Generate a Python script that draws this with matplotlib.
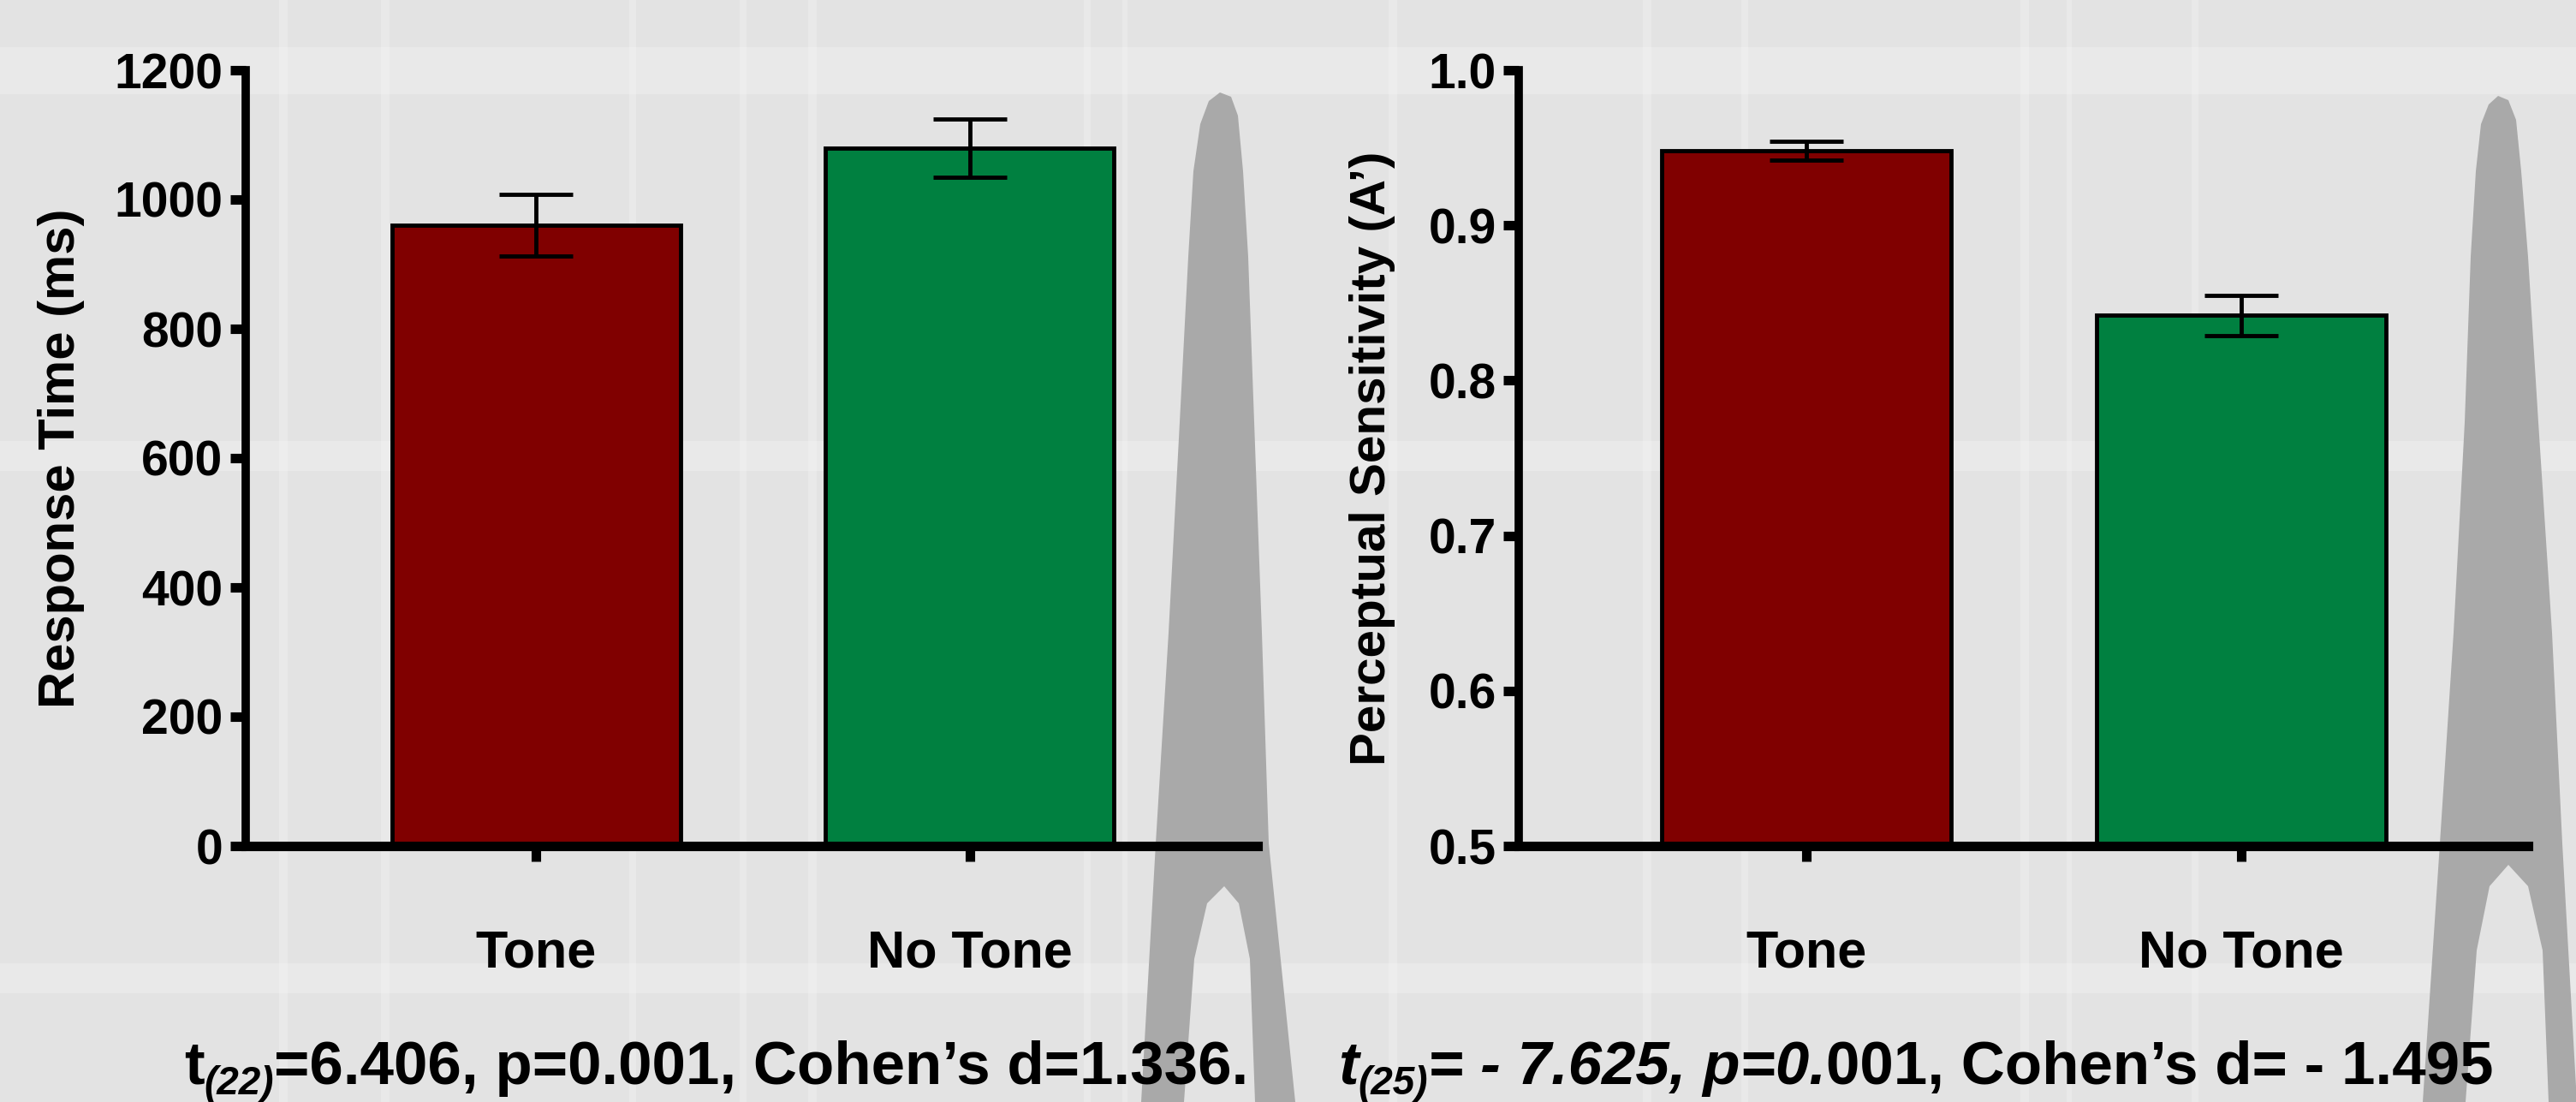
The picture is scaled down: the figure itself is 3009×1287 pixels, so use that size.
import numpy as np
import matplotlib.pyplot as plt
from matplotlib.patches import Polygon

W, H = 3009, 1287

# data
categories = ['Tone', 'No Tone']
rt_mean = [960, 1080]
rt_err = [48, 45]
aprime_mean = [0.948, 0.842]
aprime_err = [0.006, 0.013]
bar_colors = ['#800000', '#008040']
rt_ticks = [0, 200, 400, 600, 800, 1000, 1200]
aprime_ticks = [0.5, 0.6, 0.7, 0.8, 0.9, 1.0]

font = ['Liberation Sans', 'DejaVu Sans']

fig = plt.figure(figsize=(W / 100, H / 100), dpi=100)
fig.patch.set_facecolor('#e3e3e3')

# background: faint light stripes + grey peaks
bg = fig.add_axes([0, 0, 1, 1], zorder=-10)
bg.set_xlim(0, W)
bg.set_ylim(H, 0)
bg.axis('off')
for x0, w in [(326, 10), (445, 10), (735, 8), (864, 8), (944, 10), (1266, 8),
              (1311, 6), (1622, 10), (1919, 10), (2034, 8), (2360, 10), (2414, 6), (2560, 8)]:
    bg.axvspan(x0, x0 + w, color='white', alpha=0.22, lw=0)
for y0, h in [(55, 55), (515, 35), (1125, 35)]:
    bg.axhspan(y0, y0 + h, color='white', alpha=0.22, lw=0)

peak_l = [(1333, 1287), (1350, 985), (1365, 739), (1378, 493), (1388, 300), (1394, 200),
          (1402, 145), (1412, 118), (1425, 108), (1438, 113), (1446, 135), (1452, 200),
          (1458, 300), (1465, 493), (1474, 739), (1482, 985), (1513, 1287),
          (1466, 1287), (1460, 1120), (1447, 1055), (1430, 1035), (1410, 1055),
          (1395, 1120), (1383, 1287)]
peak_r = [(2830, 1287), (2850, 985), (2866, 739), (2879, 493), (2886, 300), (2892, 200),
          (2898, 145), (2907, 122), (2918, 112), (2930, 117), (2939, 140), (2945, 200),
          (2953, 300), (2965, 493), (2981, 739), (2993, 985), (3010, 1287),
          (2977, 1287), (2970, 1110), (2953, 1035), (2930, 1010), (2908, 1035),
          (2893, 1110), (2880, 1287)]
for pts in [peak_l, peak_r]:
    bg.add_patch(Polygon(pts, closed=True, facecolor='#a9a9a9', edgecolor='none'))


def bar_panel(rect, means, errs, ticks, ylim, xlim, ylabel, label_size, label_x, fmt):
    ax = fig.add_axes(rect)
    ax.patch.set_alpha(0)
    x = np.arange(len(categories))
    ax.bar(x, means, width=0.665, color=bar_colors, edgecolor='black', linewidth=3.5, zorder=2)
    ax.errorbar(x, means, yerr=errs, fmt='none', ecolor='black', elinewidth=3.5,
                capsize=31, capthick=3.5, zorder=3)
    ax.set_xlim(*xlim)
    ax.set_ylim(*ylim)
    ax.set_xticks(x)
    ax.set_xticklabels(categories)
    ax.set_yticks(ticks)
    ax.set_yticklabels([fmt.format(t) for t in ticks])
    for s in ['top', 'right']:
        ax.spines[s].set_visible(False)
    ax.spines['left'].set_linewidth(7)
    ax.spines['bottom'].set_linewidth(8)
    ax.tick_params(axis='both', direction='out', length=13, width=8)
    ax.tick_params(axis='y', pad=6)
    ax.tick_params(axis='x', pad=57)
    for lab in ax.get_yticklabels():
        lab.set_family(font)
        lab.set_fontweight('bold')
        lab.set_fontsize(41)
    for lab in ax.get_xticklabels():
        lab.set_family(font)
        lab.set_fontweight('bold')
        lab.set_fontsize(44)
    ax.set_ylabel(ylabel, family=font, fontweight='bold', fontsize=label_size, va='center')
    ax.yaxis.set_label_coords(label_x, 0.5)
    return ax


bar_panel([287 / W, 1 - 988 / H, (1469 - 287) / W, (988 - 82) / H],
          rt_mean, rt_err, rt_ticks, (0, 1200), (-0.669, 1.663),
          'Response Time (ms)', 43, -0.182, '{:d}')
bar_panel([1774 / W, 1 - 988 / H, (2953 - 1774) / W, (988 - 82) / H],
          aprime_mean, aprime_err, aprime_ticks, (0.5, 1.0), (-0.661, 1.659),
          'Perceptual Sensitivity (A\u2019)', 42, -0.145, '{:.1f}')

# statistics lines under each panel, written piece by piece
renderer = fig.canvas.get_renderer()


def stat_line(x, y, parts):
    for s, style, size, dy in parts:
        t = fig.text(x / W, 1 - (y + dy) / H, s, family=font, fontweight='bold',
                     style=style, fontsize=size, va='baseline', ha='left')
        x += t.get_window_extent(renderer).width


stat_line(215, 1266, [('t', 'normal', 51, 0), ('(22)', 'italic', 33, 12),
                      ('=6.406, p=0.001, Cohen\u2019s d=1.336.', 'normal', 51, 0)])
stat_line(1563, 1266, [('t', 'italic', 51, 0), ('(25)', 'italic', 33, 12),
                       ('= - 7.625, p=0.', 'italic', 51, 0),
                       ('001, Cohen\u2019s d= - 1.495', 'normal', 51, 0)])

fig.savefig('out.png', dpi=100, facecolor=fig.get_facecolor())
